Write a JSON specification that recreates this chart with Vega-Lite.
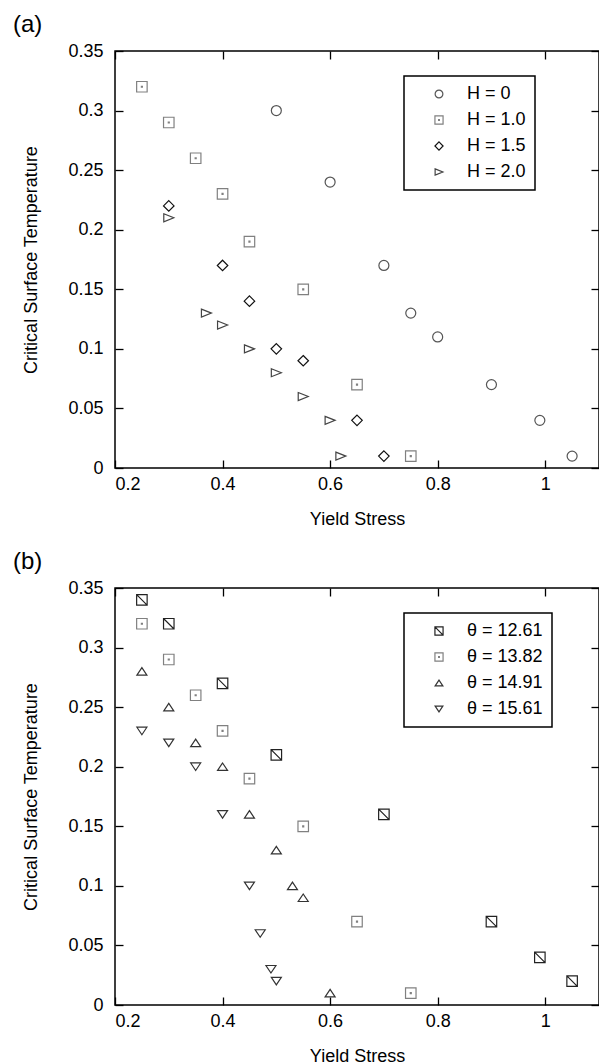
{
  "$schema": "https://vega.github.io/schema/vega-lite/v6.json",
  "padding": {"left": 12, "top": 12, "right": 0, "bottom": 0},
  "resolve": {"scale": {"shape": "independent", "color": "independent"}, "legend": {"shape": "independent", "color": "independent"}},
  "datasets": {
    "a": [
      {"series": "H = 0", "stress": 0.5, "temp": 0.30},
      {"series": "H = 0", "stress": 0.6, "temp": 0.24},
      {"series": "H = 0", "stress": 0.7, "temp": 0.17},
      {"series": "H = 0", "stress": 0.75, "temp": 0.13},
      {"series": "H = 0", "stress": 0.8, "temp": 0.11},
      {"series": "H = 0", "stress": 0.9, "temp": 0.07},
      {"series": "H = 0", "stress": 0.99, "temp": 0.04},
      {"series": "H = 0", "stress": 1.05, "temp": 0.01},
      {"series": "H = 1.0", "stress": 0.25, "temp": 0.32},
      {"series": "H = 1.0", "stress": 0.3, "temp": 0.29},
      {"series": "H = 1.0", "stress": 0.35, "temp": 0.26},
      {"series": "H = 1.0", "stress": 0.4, "temp": 0.23},
      {"series": "H = 1.0", "stress": 0.45, "temp": 0.19},
      {"series": "H = 1.0", "stress": 0.55, "temp": 0.15},
      {"series": "H = 1.0", "stress": 0.65, "temp": 0.07},
      {"series": "H = 1.0", "stress": 0.75, "temp": 0.01},
      {"series": "H = 1.5", "stress": 0.3, "temp": 0.22},
      {"series": "H = 1.5", "stress": 0.4, "temp": 0.17},
      {"series": "H = 1.5", "stress": 0.45, "temp": 0.14},
      {"series": "H = 1.5", "stress": 0.5, "temp": 0.10},
      {"series": "H = 1.5", "stress": 0.55, "temp": 0.09},
      {"series": "H = 1.5", "stress": 0.65, "temp": 0.04},
      {"series": "H = 1.5", "stress": 0.7, "temp": 0.01},
      {"series": "H = 2.0", "stress": 0.3, "temp": 0.21},
      {"series": "H = 2.0", "stress": 0.37, "temp": 0.13},
      {"series": "H = 2.0", "stress": 0.4, "temp": 0.12},
      {"series": "H = 2.0", "stress": 0.45, "temp": 0.10},
      {"series": "H = 2.0", "stress": 0.5, "temp": 0.08},
      {"series": "H = 2.0", "stress": 0.55, "temp": 0.06},
      {"series": "H = 2.0", "stress": 0.6, "temp": 0.04},
      {"series": "H = 2.0", "stress": 0.62, "temp": 0.01}
    ],
    "b": [
      {"series": "θ = 12.61", "stress": 0.25, "temp": 0.34},
      {"series": "θ = 12.61", "stress": 0.3, "temp": 0.32},
      {"series": "θ = 12.61", "stress": 0.4, "temp": 0.27},
      {"series": "θ = 12.61", "stress": 0.5, "temp": 0.21},
      {"series": "θ = 12.61", "stress": 0.7, "temp": 0.16},
      {"series": "θ = 12.61", "stress": 0.9, "temp": 0.07},
      {"series": "θ = 12.61", "stress": 0.99, "temp": 0.04},
      {"series": "θ = 12.61", "stress": 1.05, "temp": 0.02},
      {"series": "θ = 13.82", "stress": 0.25, "temp": 0.32},
      {"series": "θ = 13.82", "stress": 0.3, "temp": 0.29},
      {"series": "θ = 13.82", "stress": 0.35, "temp": 0.26},
      {"series": "θ = 13.82", "stress": 0.4, "temp": 0.23},
      {"series": "θ = 13.82", "stress": 0.45, "temp": 0.19},
      {"series": "θ = 13.82", "stress": 0.55, "temp": 0.15},
      {"series": "θ = 13.82", "stress": 0.65, "temp": 0.07},
      {"series": "θ = 13.82", "stress": 0.75, "temp": 0.01},
      {"series": "θ = 14.91", "stress": 0.25, "temp": 0.28},
      {"series": "θ = 14.91", "stress": 0.3, "temp": 0.25},
      {"series": "θ = 14.91", "stress": 0.35, "temp": 0.22},
      {"series": "θ = 14.91", "stress": 0.4, "temp": 0.20},
      {"series": "θ = 14.91", "stress": 0.45, "temp": 0.16},
      {"series": "θ = 14.91", "stress": 0.5, "temp": 0.13},
      {"series": "θ = 14.91", "stress": 0.53, "temp": 0.10},
      {"series": "θ = 14.91", "stress": 0.55, "temp": 0.09},
      {"series": "θ = 14.91", "stress": 0.6, "temp": 0.01},
      {"series": "θ = 15.61", "stress": 0.25, "temp": 0.23},
      {"series": "θ = 15.61", "stress": 0.3, "temp": 0.22},
      {"series": "θ = 15.61", "stress": 0.35, "temp": 0.20},
      {"series": "θ = 15.61", "stress": 0.4, "temp": 0.16},
      {"series": "θ = 15.61", "stress": 0.45, "temp": 0.10},
      {"series": "θ = 15.61", "stress": 0.47, "temp": 0.06},
      {"series": "θ = 15.61", "stress": 0.49, "temp": 0.03},
      {"series": "θ = 15.61", "stress": 0.5, "temp": 0.02}
    ]
  },
  "vconcat": [
    {
      "title": {"text": "(a)"},
      "width": 484,
      "height": 417,
      "data": {"name": "a"},
      "resolve": {"axis": {"x": "independent", "y": "independent"}},
      "layer": [
        {
          "mark": {"type": "point", "filled": false, "size": 100, "strokeWidth": 1.2, "opacity": 1},
          "encoding": {
            "x": {"field": "stress", "type": "quantitative",
              "scale": {"domain": [0.2, 1.1], "nice": false, "zero": false},
              "axis": {"values": [0.2, 0.4, 0.6, 0.8, 1], "format": "~g", "title": "Yield Stress", "labelPadding": 15, "titlePadding": 17}},
            "y": {"field": "temp", "type": "quantitative",
              "scale": {"domain": [0, 0.35], "nice": false, "zero": false},
              "axis": {"values": [0, 0.05, 0.1, 0.15, 0.2, 0.25, 0.3, 0.35], "format": "~g", "title": "Critical Surface Temperature", "labelPadding": 20, "titlePadding": 27}},
            "shape": {"field": "series", "type": "nominal",
              "scale": {"domain": ["H = 0", "H = 1.0", "H = 1.5", "H = 2.0"],
                "range": ["circle", "M-1.05,-1.05H1.05V1.05H-1.05Z M-0.1,-0.1H0.1V0.1H-0.1Z", "M0,-1.05L1.05,0L0,1.05L-1.05,0Z", "M-1,-0.8L1,0L-1,0.8Z"]},
              "legend": {"orient": "none", "legendX": 289, "legendY": 25}},
            "color": {"field": "series", "type": "nominal",
              "scale": {"domain": ["H = 0", "H = 1.0", "H = 1.5", "H = 2.0"], "range": ["#555555", "#808080", "#111111", "#444444"]},
              "legend": {"orient": "none", "legendX": 289, "legendY": 25}}
          }
        },
        {
          "mark": {"type": "point", "opacity": 0},
          "encoding": {
            "x": {"field": "stress", "type": "quantitative",
              "axis": {"orient": "top", "values": [0.2, 0.4, 0.6, 0.8, 1], "labels": false, "title": null}},
            "y": {"field": "temp", "type": "quantitative",
              "axis": {"orient": "right", "values": [0, 0.05, 0.1, 0.15, 0.2, 0.25, 0.3, 0.35], "labels": false, "title": null}}
          }
        }
      ]
    },
    {
      "title": {"text": "(b)"},
      "width": 484,
      "height": 417,
      "data": {"name": "b"},
      "resolve": {"axis": {"x": "independent", "y": "independent"}},
      "layer": [
        {
          "mark": {"type": "point", "filled": false, "size": 100, "strokeWidth": 1.2, "opacity": 1},
          "encoding": {
            "x": {"field": "stress", "type": "quantitative",
              "scale": {"domain": [0.2, 1.1], "nice": false, "zero": false},
              "axis": {"values": [0.2, 0.4, 0.6, 0.8, 1], "format": "~g", "title": "Yield Stress", "labelPadding": 15, "titlePadding": 17}},
            "y": {"field": "temp", "type": "quantitative",
              "scale": {"domain": [0, 0.35], "nice": false, "zero": false},
              "axis": {"values": [0, 0.05, 0.1, 0.15, 0.2, 0.25, 0.3, 0.35], "format": "~g", "title": "Critical Surface Temperature", "labelPadding": 20, "titlePadding": 27}},
            "shape": {"field": "series", "type": "nominal",
              "scale": {"domain": ["θ = 12.61", "θ = 13.82", "θ = 14.91", "θ = 15.61"],
                "range": ["M-1.05,-1.05H1.05V1.05H-1.05Z M-1.05,-1.05L1.05,1.05", "M-1.05,-1.05H1.05V1.05H-1.05Z M-0.1,-0.1H0.1V0.1H-0.1Z", "M0,-0.75L1,0.75L-1,0.75Z", "M0,0.75L1,-0.75L-1,-0.75Z"]},
              "legend": {"orient": "none", "legendX": 289, "legendY": 25}},
            "color": {"field": "series", "type": "nominal",
              "scale": {"domain": ["θ = 12.61", "θ = 13.82", "θ = 14.91", "θ = 15.61"], "range": ["#222222", "#808080", "#333333", "#333333"]},
              "legend": {"orient": "none", "legendX": 289, "legendY": 25}}
          }
        },
        {
          "mark": {"type": "point", "opacity": 0},
          "encoding": {
            "x": {"field": "stress", "type": "quantitative",
              "axis": {"orient": "top", "values": [0.2, 0.4, 0.6, 0.8, 1], "labels": false, "title": null}},
            "y": {"field": "temp", "type": "quantitative",
              "axis": {"orient": "right", "values": [0, 0.05, 0.1, 0.15, 0.2, 0.25, 0.3, 0.35], "labels": false, "title": null}}
          }
        }
      ]
    }
  ],
  "config": {
    "font": "Liberation Sans",
    "view": {"stroke": "black", "strokeWidth": 1.5},
    "concat": {"spacing": 20},
    "axis": {"grid": false, "domain": false, "ticks": true, "tickColor": "black", "tickSize": -8, "tickWidth": 1.3,
      "labelFont": "Liberation Sans", "labelFontSize": 18, "labelColor": "black",
      "titleFont": "Liberation Sans", "titleFontSize": 18, "titleFontWeight": "normal", "titleColor": "black"},
    "legend": {"title": null, "strokeColor": "black", "strokeWidth": 1.5, "fillColor": "white", "padding": 9,
      "labelFont": "Liberation Sans", "labelFontSize": 18, "labelColor": "black", "symbolSize": 60, "symbolStrokeWidth": 1.2,
      "symbolOffset": 17, "labelOffset": 19, "rowPadding": 8, "symbolType": "circle"},
    "title": {"font": "Liberation Sans", "fontSize": 24, "fontWeight": "normal", "color": "black", "anchor": "start", "frame": "group", "dx": -102, "offset": 5}
  }
}
